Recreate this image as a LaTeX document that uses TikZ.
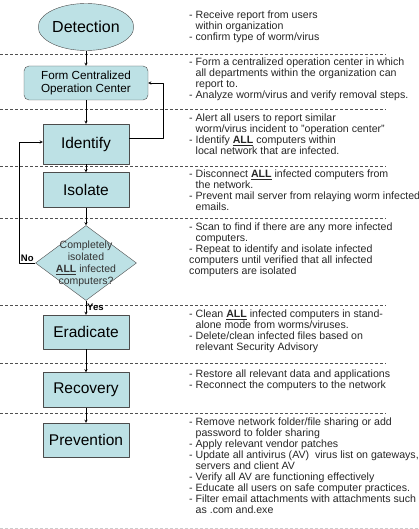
\documentclass[tikz,border=0pt]{standalone}
\usepackage{fontspec}
\setmainfont{Liberation Sans}
\usetikzlibrary{shapes.geometric}
\definecolor{stagefill}{RGB}{189,225,229}
\definecolor{rulegray}{RGB}{80,80,80}
\newcommand{\ALL}{\textbf{\underline{ALL}}}
\newcommand{\ind}{\hphantom{- }}
\begin{document}
\begin{tikzpicture}[x=1pt, y=-1pt, >=stealth, line join=round,
  stage/.style={draw=black!70, fill=stagefill, minimum width=86, minimum height=35, inner sep=0, font=\fontsize{15.5}{18}\selectfont},
  decision/.style={diamond, draw=black!70, fill=stagefill, minimum width=101, minimum height=75, inner sep=0},
  steps/.style={anchor=north west, inner sep=0, align=left, text=black!85, font=\fontsize{10.6}{10.9}\selectfont},
  sepline/.style={rulegray, dashed, dash pattern=on 3pt off 2pt, line width=0.7pt},
  lbl/.style={font=\bfseries\fontsize{9.5}{11}\selectfont, inner sep=1pt}]
\useasboundingbox (0,0) rectangle (419,529);
% separators
\foreach \y in {54,109,166,218,305,363,413}
  \draw[sepline] (0,\y) -- (386,\y);
\draw[sepline, black!20] (0,528) -- (419,528);

% flow
\node[ellipse, draw=black!70, fill=stagefill, minimum width=91, minimum height=47, inner sep=0, font=\fontsize{16}{19}\selectfont] (detect) at (86,27) {Detection};
\node[stage, rounded corners=5, minimum width=124, minimum height=34, align=center, font=\fontsize{11.7}{13.4}\selectfont] (central) at (86,83) {Form Centralized\\Operation Center};
\node[stage, minimum height=40] (identify) at (86,144) {Identify};
\node[stage] (isolate) at (86,190) {Isolate};
\node[decision] (check) at (86,263) {};
\node[align=center, inner sep=0, text=black!80, font=\fontsize{10.5}{12}\selectfont] (checktext) at (86,264) {Completely\\isolated\\\ALL{} infected\\computers?};
\node[stage, minimum height=34] (eradicate) at (86,332) {Eradicate};
\node[stage] (recovery) at (86,390) {Recovery};
\node[stage, minimum height=34] (prevent) at (86,440) {Prevention};

\draw[->] (detect) -- (central);
\draw[->] (central) -- (identify);
\draw[->] (identify) -- (isolate);
\draw[->] (isolate) -- (check);
\draw[->] (check) -- node[lbl, right]{Yes} (eradicate);
\draw[->] (eradicate) -- (recovery);
\draw[->] (recovery) -- (prevent);
\draw[->] ([yshift=6]identify.east) -- ++(34,0) |- (central.east);
\draw[->] (check.west) -- node[lbl, above]{No} ++(-16,0) |- ([yshift=2]identify.west);

% notes
\node[steps] (notedetect) at (189,11) {- Receive report from users\\\ind within organization\\- confirm type of worm/virus};
\node[steps] (notecentral) at (189,58) {- Form a centralized operation center in which\\\ind all departments within the organization can\\\ind report to.\\- Analyze worm/virus and verify removal steps.};
\node[steps] (noteidentify) at (189,114) {- Alert all users to report similar\\\ind worm/virus incident to "operation center"\\- Identify \ALL{} computers within\\\ind local network that are infected.};
\node[steps] (noteisolate) at (189,170) {- Disconnect \ALL{} infected computers from\\\ind the network.\\- Prevent mail server from relaying worm infected\\\ind emails.};
\node[steps] (notecheck) at (189,223) {- Scan to find if there are any more infected\\\ind computers.\\- Repeat to identify and isolate infected\\computers until verified that all infected\\computers are isolated};
\node[steps] (noteeradicate) at (189,310) {- Clean \ALL{} infected computers in stand-\\\ind alone mode from worms/viruses.\\- Delete/clean infected files based on\\\ind relevant Security Advisory};
\node[steps] (noterecovery) at (189,370) {- Restore all relevant data and applications\\- Reconnect the computers to the network};
\node[steps] (noteprevent) at (189,418) {- Remove network folder/file sharing or add\\\ind password to folder sharing\\- Apply relevant vendor patches\\- Update all antivirus (AV)~ virus list on gateways,\\\ind servers and client AV\\- Verify all AV are functioning effectively\\- Educate all users on safe computer practices.\\- Filter email attachments with attachments such\\\ind as .com and.exe};
\end{tikzpicture}
\end{document}
